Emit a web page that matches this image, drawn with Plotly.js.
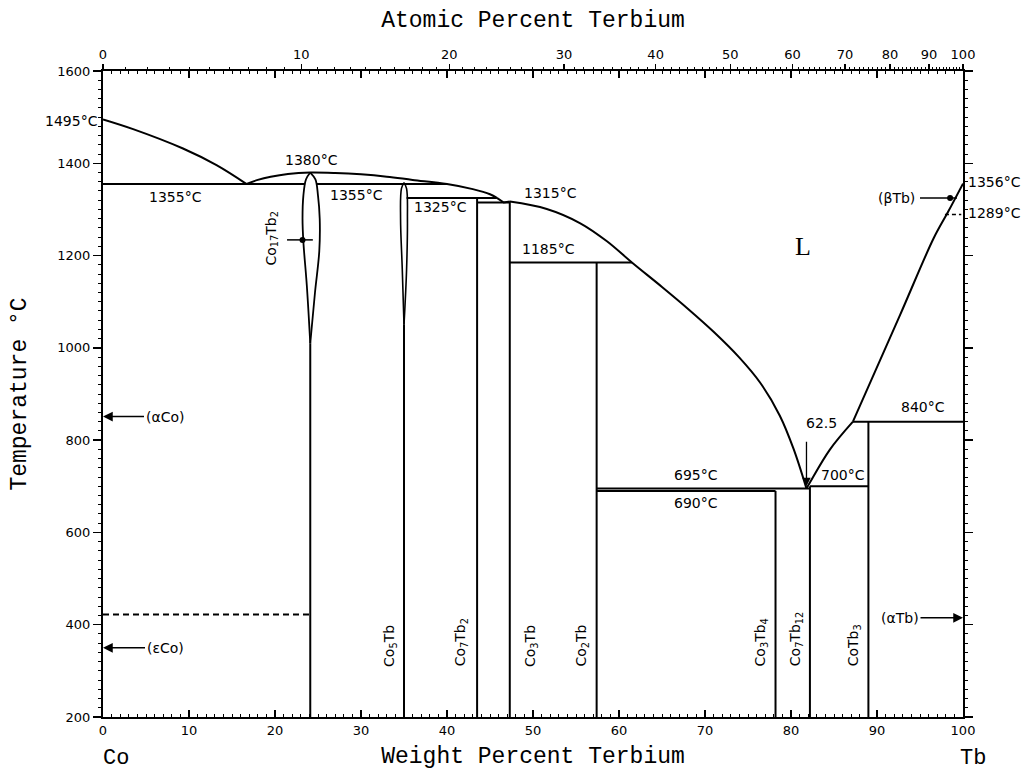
<!DOCTYPE html>
<html><head><meta charset="utf-8">
<script src="https://cdn.plot.ly/plotly-3.0.1.min.js"></script>
<style>html,body{margin:0;padding:0;background:#fff}#chart{width:1025px;height:774px}</style>
</head><body><div id="chart"></div>
<script>
// ---- data (weight % Tb, temperature °C) ----
const liqCoX = [0, 3.5, 9.3, 13.2, 16.7];
const liqCoT = [1495, 1474, 1432, 1396, 1355];

const liqCo17X = [16.7, 18, 19.5, 21.5, 24.1, 27, 30, 33, 36, 40, 43, 45, 45.8];
const liqCo17T = [1355, 1364, 1371, 1377, 1380, 1379, 1376, 1371, 1364, 1355, 1344, 1333, 1325];

const liqDipX = [45.8, 46.6, 47.3];
const liqDipT = [1325, 1315, 1317];

const liqCo3X = [47.3, 51.6, 55.5, 58.6, 61.5, 65, 68, 71, 74, 76.4, 78.7, 80.3, 81.8];
const liqCo3T = [1317, 1301, 1270, 1231, 1185, 1132, 1085, 1035, 979, 925, 853, 781, 695];

const liqTbLowX = [81.8, 82.2, 84.5, 87.2];
const liqTbLowT = [695, 708, 779, 840];
const liqTbHighX = [87.2, 92.7, 96.6, 98.3, 100];
const liqTbHighT = [840, 1072, 1238, 1296, 1356];

const co17LeftX = [24.1, 23.6, 23.3, 23.2, 23.3, 23.7, 24.1];
const co17LeftT = [1380, 1365, 1330, 1280, 1230, 1135, 1010];
const co17RightX = [24.1, 24.7, 25.0, 25.2, 25.15, 24.65, 24.1];
const co17RightT = [1380, 1365, 1330, 1280, 1210, 1120, 1010];

const co5LeftX = [35.0, 34.7, 34.6, 34.8, 35.0];
const co5LeftT = [1358, 1345, 1280, 1170, 1050];
const co5RightX = [35.0, 35.3, 35.4, 35.3, 35.0];
const co5RightT = [1358, 1345, 1280, 1170, 1050];

const isoT  = [1355, 1355, 1325, 1315, 1185, 695, 690, 700, 840];
const isoX0 = [0, 24.8, 35.3, 43.5, 47.3, 57.4, 57.4, 82.2, 87.2];
const isoX1 = [23.5, 40.0, 45.8, 47.3, 61.5, 82.2, 78.2, 89.0, 100];

const cmpX   = [24.1, 35.0, 43.5, 47.3, 57.4, 78.2, 82.2, 89.0];
const cmpTop = [1010, 1050, 1325, 1317, 1185, 690, 700, 840];
const cmpBase = 200;
const cmpNames = ['Co<sub>17</sub>Tb<sub>2</sub>', 'Co<sub>5</sub>Tb', 'Co<sub>7</sub>Tb<sub>2</sub>', 'Co<sub>3</sub>Tb', 'Co<sub>2</sub>Tb', 'Co<sub>3</sub>Tb<sub>4</sub>', 'Co<sub>7</sub>Tb<sub>12</sub>', 'CoTb<sub>3</sub>'];
const cmpLabelX = [19.6, 33.3, 41.6, 49.7, 55.7, 76.5, 80.6, 87.3];
const cmpLabelT = [1238, 305, 305, 305, 305, 305, 305, 305];

const coTransX = [0, 24.1];
const coTransT = [422, 422];
const tbTransX = [97.9, 99.8];
const tbTransT = [1289, 1289];
const betaLeadX = [95.0, 99.3];
const betaLeadT = [1325, 1325];
const betaDotX = [98.5];
const betaDotT = [1325];
const co17LeadX = [21.4, 24.4];
const co17LeadT = [1234, 1234];
const co17DotX = [23.2];
const co17DotT = [1234];

const tempLabels = ['1495°C', '1355°C', '1380°C', '1355°C', '1325°C', '1315°C', '1185°C', '840°C', '700°C', '695°C', '690°C'];
const tempLabelX = [0, 8.4, 24.3, 29.5, 39.2, 52.0, 51.8, 95.3, 86.0, 69.0, 69.0];
const tempLabelT = [1492, 1328, 1407, 1331, 1305, 1335, 1214, 872, 724, 724, 664];
const rightLabels = ['1356°C', '1289°C'];
const rightLabelT = [1360, 1292];

const phaseArrows = ['(αCo)', '(εCo)', '(αTb)'];
const phaseArrowX = [0, 0, 100];
const phaseArrowT = [851, 350, 415];

const atTickLabels = [0, 10, 20, 30, 40, 50, 60, 70, 80, 90, 100];
const M_CO = 58.933, M_TB = 158.925;
function atToWt(a) { return 100 * a * M_TB / (a * M_TB + (100 - a) * M_CO); }
const atMinor = [];
for (let a = 1; a < 100; a++) if (a % 10 !== 0) atMinor.push(a);

// ---- traces ----
const K = '#000';
const line = (x, y, w, opts) => {
  opts = opts || {};
  return {x: x, y: y, mode: 'lines', type: 'scatter', hoverinfo: 'skip', showlegend: false,
    line: {color: K, width: w || 2, dash: opts.dash || 'solid', shape: opts.spline ? 'spline' : 'linear', smoothing: 1}};
};
const traces = [];
traces.push(line(liqCoX, liqCoT, 2, {spline: true}));
traces.push(line(liqCo17X, liqCo17T, 2, {spline: true}));
traces.push(line(liqDipX, liqDipT, 2));
traces.push(line(liqCo3X, liqCo3T, 2, {spline: true}));
traces.push(line(liqTbLowX, liqTbLowT, 2, {spline: true}));
traces.push(line(liqTbHighX, liqTbHighT, 2, {spline: true}));
traces.push(line(co17LeftX, co17LeftT, 1.8, {spline: true}));
traces.push(line(co17RightX, co17RightT, 1.8, {spline: true}));
traces.push(line(co5LeftX, co5LeftT, 1.6, {spline: true}));
traces.push(line(co5RightX, co5RightT, 1.6, {spline: true}));
for (let i = 0; i < isoT.length; i++) traces.push(line([isoX0[i], isoX1[i]], [isoT[i], isoT[i]], 2));
for (let i = 0; i < cmpX.length; i++) traces.push(line([cmpX[i], cmpX[i]], [cmpBase, cmpTop[i]], 2));
traces.push(line(coTransX, coTransT, 2, {dash: '6px,4px'}));
traces.push(line(tbTransX, tbTransT, 1.5, {dash: '4px,3px'}));
traces.push(line(betaLeadX, betaLeadT, 1.5));
traces.push(line(co17LeadX, co17LeadT, 1.5));
traces.push({x: betaDotX.concat(co17DotX), y: betaDotT.concat(co17DotT), mode: 'markers', type: 'scatter',
  marker: {color: K, size: 6}, hoverinfo: 'skip', showlegend: false});
traces.push({x: [], y: [], xaxis: 'x2', type: 'scatter', mode: 'lines', showlegend: false});

// ---- annotations ----
const F = {family: 'DejaVu Sans', size: 14, color: K};
const ann = [];
tempLabels.forEach((t, i) => {
  const a = {x: tempLabelX[i], y: tempLabelT[i], text: t, showarrow: false, font: F, xanchor: 'center', yanchor: 'middle'};
  if (i === 0) { a.xanchor = 'right'; a.xshift = -3; }
  ann.push(a);
});
rightLabels.forEach((t, i) => ann.push({x: 100, y: rightLabelT[i], text: t, showarrow: false, font: F,
  xanchor: 'left', xshift: 3, yanchor: 'middle'}));
cmpNames.forEach((t, i) => ann.push({x: cmpLabelX[i], y: cmpLabelT[i], text: t, showarrow: false, font: F,
  textangle: -90, xanchor: 'center', yanchor: i === 0 ? 'middle' : 'bottom'}));
phaseArrows.forEach((t, i) => ann.push({x: phaseArrowX[i], y: phaseArrowT[i], text: t, font: F,
  showarrow: true, arrowhead: 2, arrowsize: 1.3, arrowwidth: 1.5, arrowcolor: K, standoff: 0,
  ax: i < 2 ? 62 : -63, ay: 0}));
ann.push({x: 95.0, y: 1325, text: '(βTb)', showarrow: false, font: F, xanchor: 'right', xshift: -3, yanchor: 'middle'});
ann.push({x: 81.8, y: 700, text: '', showarrow: true, arrowhead: 2, arrowsize: 1.3, arrowwidth: 1.3,
  arrowcolor: K, ax: 0, ay: -46, standoff: 0});
ann.push({x: 83.5, y: 837, text: '62.5', showarrow: false, font: F, xanchor: 'center', yanchor: 'middle'});
ann.push({x: 81.4, y: 1219, text: 'L', showarrow: false, font: {family: 'Liberation Serif', size: 26, color: K}});
const MONO = {family: 'Liberation Mono', size: 23, color: K};
const CORNER = {family: 'Liberation Mono', size: 22, color: K};
ann.push({xref: 'paper', yref: 'paper', x: 0.015, y: -0.064, text: 'Co', showarrow: false, font: CORNER, xanchor: 'center', yanchor: 'middle'});
ann.push({xref: 'paper', yref: 'paper', x: 1.012, y: -0.064, text: 'Tb', showarrow: false, font: CORNER, xanchor: 'center', yanchor: 'middle'});

const layout = {
  width: 1025, height: 774,
  margin: {l: 103, r: 62, t: 71, b: 57},
  paper_bgcolor: '#fff', plot_bgcolor: '#fff',
  font: {family: 'DejaVu Sans', size: 13, color: K},
  showlegend: false,
  xaxis: {
    range: [0, 100], tickmode: 'linear', tick0: 0, dtick: 10,
    ticks: 'inside', ticklen: 7, tickwidth: 1.5, tickcolor: K,
    minor: {dtick: 1, ticks: 'inside', ticklen: 3, tickcolor: K, tickwidth: 1},
    showline: true, linewidth: 2, linecolor: K, mirror: 'ticks',
    showgrid: false, zeroline: false, automargin: false,
    tickfont: {family: 'DejaVu Sans', size: 13, color: K},
    title: {text: 'Weight Percent Terbium', font: MONO, standoff: 10}
  },
  xaxis2: {
    overlaying: 'x', side: 'top', range: [0, 100],
    tickmode: 'array', tickvals: atTickLabels.map(atToWt), ticktext: atTickLabels.map(String),
    ticks: 'outside', ticklen: 6, tickwidth: 1.5, tickcolor: K,
    minor: {tickmode: 'array', tickvals: atMinor.map(atToWt), ticks: 'outside', ticklen: 3, tickcolor: K, tickwidth: 1},
    showline: false, showgrid: false, zeroline: false, automargin: false,
    tickfont: {family: 'DejaVu Sans', size: 13, color: K},
    title: {text: 'Atomic Percent Terbium', font: MONO, standoff: 12}
  },
  yaxis: {
    range: [200, 1600], tickmode: 'linear', tick0: 200, dtick: 200,
    ticks: 'outside', ticklen: 8, tickwidth: 1.5, tickcolor: K,
    minor: {dtick: 20, ticks: 'outside', ticklen: 3, tickcolor: K, tickwidth: 1},
    showline: true, linewidth: 2, linecolor: K, mirror: 'ticks',
    showgrid: false, zeroline: false, automargin: false,
    tickfont: {family: 'DejaVu Sans', size: 13, color: K},
    title: {text: 'Temperature °C', font: MONO, standoff: 24}
  },
  annotations: ann
};

Plotly.newPlot('chart', traces, layout, {staticPlot: true, displayModeBar: false});
</script></body></html>
